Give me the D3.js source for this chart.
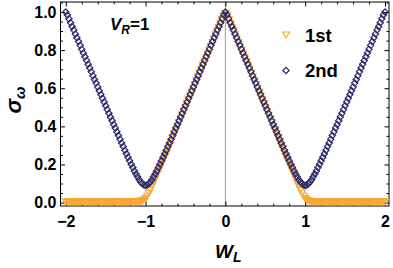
<!DOCTYPE html>
<html><head><meta charset="utf-8">
<script src="https://cdn.jsdelivr.net/npm/d3@7"></script>
<style>body{margin:0;background:#fff}svg{display:block}</style>
</head><body>
<script>
const W_L = [
-2,-1.98,-1.96,-1.94,-1.92,-1.9,-1.88,-1.86,-1.84,-1.82,
-1.8,-1.78,-1.76,-1.74,-1.72,-1.7,-1.68,-1.66,-1.64,-1.62,
-1.6,-1.58,-1.56,-1.54,-1.52,-1.5,-1.48,-1.46,-1.44,-1.42,
-1.4,-1.38,-1.36,-1.34,-1.32,-1.3,-1.28,-1.26,-1.24,-1.22,
-1.2,-1.18,-1.16,-1.14,-1.12,-1.1,-1.08,-1.06,-1.04,-1.02,
-1,-0.98,-0.96,-0.94,-0.92,-0.9,-0.88,-0.86,-0.84,-0.82,
-0.8,-0.78,-0.76,-0.74,-0.72,-0.7,-0.68,-0.66,-0.64,-0.62,
-0.6,-0.58,-0.56,-0.54,-0.52,-0.5,-0.48,-0.46,-0.44,-0.42,
-0.4,-0.38,-0.36,-0.34,-0.32,-0.3,-0.28,-0.26,-0.24,-0.22,
-0.2,-0.18,-0.16,-0.14,-0.12,-0.1,-0.08,-0.06,-0.04,-0.02,
0,0.02,0.04,0.06,0.08,0.1,0.12,0.14,0.16,0.18,
0.2,0.22,0.24,0.26,0.28,0.3,0.32,0.34,0.36,0.38,
0.4,0.42,0.44,0.46,0.48,0.5,0.52,0.54,0.56,0.58,
0.6,0.62,0.64,0.66,0.68,0.7,0.72,0.74,0.76,0.78,
0.8,0.82,0.84,0.86,0.88,0.9,0.92,0.94,0.96,0.98,
1,1.02,1.04,1.06,1.08,1.1,1.12,1.14,1.16,1.18,
1.2,1.22,1.24,1.26,1.28,1.3,1.32,1.34,1.36,1.38,
1.4,1.42,1.44,1.46,1.48,1.5,1.52,1.54,1.56,1.58,
1.6,1.62,1.64,1.66,1.68,1.7,1.72,1.74,1.76,1.78,
1.8,1.82,1.84,1.86,1.88,1.9,1.92,1.94,1.96,1.98,
2];
const sigma1st = [
0.008,0.008,0.008,0.008,0.008,0.008,0.008,0.008,0.008,0.008,
0.008,0.008,0.008,0.008,0.008,0.008,0.008,0.008,0.008,0.008,
0.008,0.008,0.008,0.008,0.008,0.008,0.008,0.008,0.008,0.008,
0.008,0.008,0.008,0.008,0.008,0.008,0.008,0.008,0.008,0.008,
0.008,0.008,0.008,0.008,0.009,0.010,0.011,0.012,0.014,0.018,
0.026,0.038,0.054,0.072,0.091,0.110,0.129,0.149,0.168,0.188,
0.207,0.225,0.245,0.265,0.285,0.305,0.325,0.345,0.365,0.385,
0.405,0.425,0.445,0.465,0.485,0.505,0.525,0.545,0.565,0.585,
0.605,0.625,0.645,0.665,0.685,0.705,0.725,0.745,0.765,0.785,
0.805,0.825,0.845,0.865,0.885,0.905,0.925,0.945,0.965,0.985,
0.998,0.985,0.965,0.945,0.925,0.905,0.885,0.865,0.845,0.825,
0.805,0.785,0.765,0.745,0.725,0.705,0.685,0.665,0.645,0.625,
0.605,0.585,0.565,0.545,0.525,0.505,0.485,0.465,0.445,0.425,
0.405,0.385,0.365,0.345,0.325,0.305,0.285,0.265,0.245,0.225,
0.207,0.188,0.168,0.149,0.129,0.110,0.091,0.072,0.054,0.038,
0.026,0.018,0.014,0.012,0.011,0.010,0.009,0.008,0.008,0.008,
0.008,0.008,0.008,0.008,0.008,0.008,0.008,0.008,0.008,0.008,
0.008,0.008,0.008,0.008,0.008,0.008,0.008,0.008,0.008,0.008,
0.008,0.008,0.008,0.008,0.008,0.008,0.008,0.008,0.008,0.008,
0.008,0.008,0.008,0.008,0.008,0.008,0.008,0.008,0.008,0.008,
0.008];
const sigma2nd = [
1.000,0.984,0.964,0.944,0.924,0.905,0.885,0.865,0.845,0.825,
0.805,0.785,0.765,0.746,0.726,0.706,0.686,0.666,0.646,0.627,
0.607,0.587,0.567,0.547,0.528,0.508,0.488,0.469,0.449,0.430,
0.410,0.391,0.371,0.352,0.332,0.313,0.294,0.275,0.256,0.238,
0.219,0.201,0.184,0.166,0.150,0.135,0.120,0.108,0.099,0.092,
0.090,0.092,0.099,0.108,0.120,0.135,0.150,0.166,0.184,0.201,
0.219,0.238,0.256,0.275,0.294,0.313,0.332,0.352,0.371,0.391,
0.410,0.430,0.449,0.469,0.488,0.508,0.528,0.547,0.567,0.587,
0.607,0.627,0.646,0.666,0.686,0.706,0.726,0.746,0.765,0.785,
0.805,0.825,0.845,0.865,0.885,0.905,0.924,0.944,0.964,0.984,
1.000,0.984,0.964,0.944,0.924,0.905,0.885,0.865,0.845,0.825,
0.805,0.785,0.765,0.746,0.726,0.706,0.686,0.666,0.646,0.627,
0.607,0.587,0.567,0.547,0.528,0.508,0.488,0.469,0.449,0.430,
0.410,0.391,0.371,0.352,0.332,0.313,0.294,0.275,0.256,0.238,
0.219,0.201,0.184,0.166,0.150,0.135,0.120,0.108,0.099,0.092,
0.090,0.092,0.099,0.108,0.120,0.135,0.150,0.166,0.184,0.201,
0.219,0.238,0.256,0.275,0.294,0.313,0.332,0.352,0.371,0.391,
0.410,0.430,0.449,0.469,0.488,0.508,0.528,0.547,0.567,0.587,
0.607,0.627,0.646,0.666,0.686,0.706,0.726,0.746,0.765,0.785,
0.805,0.825,0.845,0.865,0.885,0.905,0.924,0.944,0.964,0.984,
1.000];
const xTicks = [-2,-1,0,1,2];
const xTickLabels = ["\u22122","\u22121","0","1","2"];
const yTicks = [0,0.2,0.4,0.6,0.8,1.0];
const yTickLabels = ["0.0","0.2","0.4","0.6","0.8","1.0"];
const seriesNames = ["1st","2nd"];

const width = 393, height = 268;
const L = 60.5, R = 389, T = 2, B = 206;
const ORANGE = "#f5a52c", NAVY = "#2c2a6b";
const FONT = "'Liberation Sans', Arial, Helvetica, sans-serif";

const svg = d3.select("body").append("svg").attr("width", width).attr("height", height);
const x = d3.scaleLinear().domain([-2.066, 2.05]).range([L, R]);
const y = d3.scaleLinear().domain([-0.018, 1.0525]).range([B, T]);

const xMinor = d3.range(-2, 2.001, 0.2).filter(v => Math.abs(v - Math.round(v)) > 1e-6);
const yMinor = d3.range(0, 1.051, 0.05).filter(v => Math.abs(v*5 - Math.round(v*5)) > 1e-6);

svg.append("line").attr("x1", x(0)).attr("x2", x(0)).attr("y1", T).attr("y2", B)
  .attr("stroke", "#9a9a9a").attr("stroke-width", 1);

function styleAxis(g, labels) {
  g.select(".domain").remove();
  g.selectAll(".tick line").attr("stroke", "#000").attr("stroke-width", 1);
  g.selectAll(".tick text").attr("font-family", FONT).attr("font-weight", "bold")
    .attr("font-size", 16).attr("fill", "#000");
  if (!labels) g.selectAll(".tick text").remove();
}
svg.append("g").attr("transform", `translate(0,${B})`)
  .call(d3.axisBottom(x).tickValues(xTicks).tickFormat((d,i)=>xTickLabels[i]).tickSize(-4.5).tickPadding(10))
  .call(g => styleAxis(g, true));
svg.append("g").attr("transform", `translate(0,${B})`)
  .call(d3.axisBottom(x).tickValues(xMinor).tickSize(-2.5)).call(g => styleAxis(g, false));
svg.append("g").attr("transform", `translate(0,${T})`)
  .call(d3.axisTop(x).tickValues(xTicks).tickSize(-4.5)).call(g => styleAxis(g, false));
svg.append("g").attr("transform", `translate(0,${T})`)
  .call(d3.axisTop(x).tickValues(xMinor).tickSize(-2.5)).call(g => styleAxis(g, false));
svg.append("g").attr("transform", `translate(${L},0)`)
  .call(d3.axisLeft(y).tickValues(yTicks).tickFormat((d,i)=>yTickLabels[i]).tickSize(-4.5).tickPadding(4))
  .call(g => styleAxis(g, true));
svg.append("g").attr("transform", `translate(${L},0)`)
  .call(d3.axisLeft(y).tickValues(yMinor).tickSize(-2.5)).call(g => styleAxis(g, false));
svg.append("g").attr("transform", `translate(${R},0)`)
  .call(d3.axisRight(y).tickValues(yTicks).tickSize(-4.5)).call(g => styleAxis(g, false));
svg.append("g").attr("transform", `translate(${R},0)`)
  .call(d3.axisRight(y).tickValues(yMinor).tickSize(-2.5)).call(g => styleAxis(g, false));

svg.append("rect").attr("x", L).attr("y", T).attr("width", R - L).attr("height", B - T)
  .attr("fill", "none").attr("stroke", "#000").attr("stroke-width", 1);

const tri = d3.symbol().type(d3.symbolTriangle).size(21)();
const dia = d3.symbol().type(d3.symbolSquare).size(20)();

const d1 = W_L.map((w,i)=>({w, v: sigma1st[i]}));
const d2 = W_L.map((w,i)=>({w, v: sigma2nd[i]}));

svg.append("g").selectAll("path").data(d1).join("path")
  .attr("d", tri)
  .attr("transform", d => `translate(${x(d.w)},${y(d.v)}) rotate(180)`)
  .attr("fill", "none").attr("stroke", ORANGE).attr("stroke-width", 1.1);
svg.append("g").selectAll("path").data(d2).join("path")
  .attr("d", dia)
  .attr("transform", d => `translate(${x(d.w)},${y(d.v)}) rotate(45)`)
  .attr("fill", "none").attr("stroke", NAVY).attr("stroke-width", 1.2);

const leg = svg.append("g");
leg.append("path").attr("d", tri).attr("transform", "translate(286,34) rotate(180)")
  .attr("fill", "none").attr("stroke", ORANGE).attr("stroke-width", 1.1);
leg.append("path").attr("d", dia).attr("transform", "translate(286,70.5) rotate(45)")
  .attr("fill", "none").attr("stroke", NAVY).attr("stroke-width", 1.2);
leg.append("text").attr("x", 305).attr("y", 41.5).text(seriesNames[0])
  .attr("font-family", FONT).attr("font-weight", "bold").attr("font-size", 18.5);
leg.append("text").attr("x", 305).attr("y", 77).text(seriesNames[1])
  .attr("font-family", FONT).attr("font-weight", "bold").attr("font-size", 18.5);

const vr = svg.append("text").attr("x", 110).attr("y", 30)
  .attr("font-family", FONT).attr("font-weight", "bold").attr("font-size", 17);
vr.append("tspan").attr("font-style", "italic").text("V");
vr.append("tspan").attr("font-style", "italic").attr("font-size", 12).attr("dy", 3.5).text("R");
vr.append("tspan").attr("dy", -3.5).text("=1");

const xt = svg.append("text").attr("x", 215).attr("y", 258)
  .attr("font-family", FONT).attr("font-weight", "bold").attr("font-size", 19);
xt.append("tspan").attr("font-style", "italic").text("W");
xt.append("tspan").attr("font-style", "italic").attr("font-size", 14).attr("dy", 4).text("L");

const yt = svg.append("text").attr("transform", "translate(21,100) rotate(-90)")
  .attr("text-anchor", "middle")
  .attr("font-family", FONT).attr("font-weight", "bold").attr("font-size", 22);
yt.append("tspan").attr("font-style", "italic").text("σ");
yt.append("tspan").attr("font-style", "italic").attr("font-size", 15).attr("dy", 4).text("ω");
</script>
</body></html>
